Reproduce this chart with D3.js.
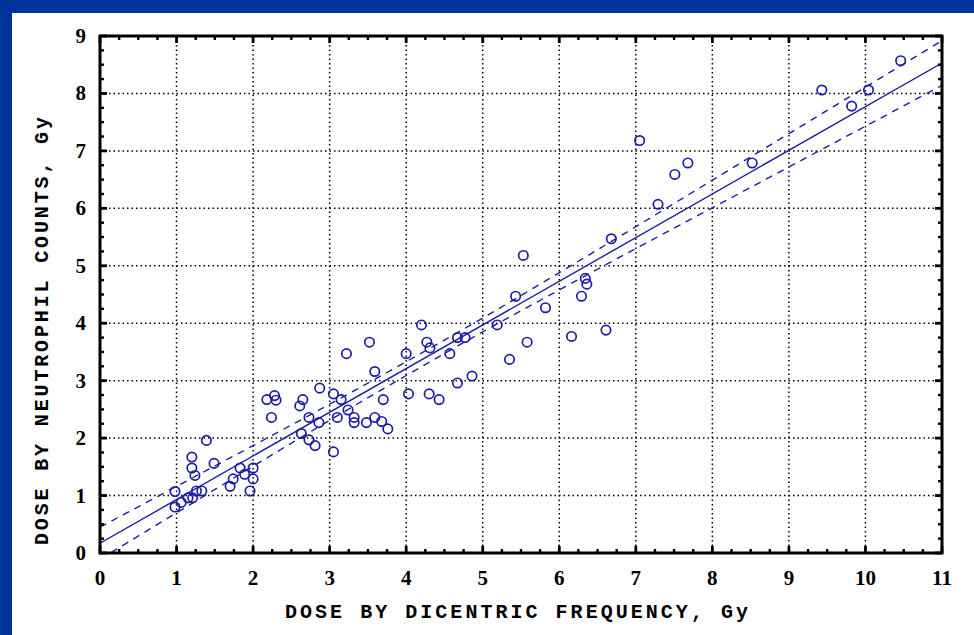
<!DOCTYPE html>
<html>
<head>
<meta charset="utf-8">
<script src="https://cdn.jsdelivr.net/npm/d3@7"></script>
<style>
  html, body { margin: 0; padding: 0; background: #ffffff; }
  svg { display: block; }
</style>
</head>
<body>
<svg id="chart" width="974" height="635"></svg>
<script>
// Dose estimates: dicentric frequency (x) vs neutrophil counts (y), Gy
const doseDicentric = [
  0.98, 0.98, 1.06, 1.15, 1.21, 1.26, 1.33, 1.20, 1.20, 1.24,
  1.39, 1.49, 1.70, 1.74, 1.83, 1.89, 1.96, 2.00, 2.00, 2.18,
  2.28, 2.30, 2.24, 2.61, 2.65, 2.63, 2.73, 2.73, 2.81, 2.86,
  2.87, 3.05, 3.15, 3.10, 3.24, 3.32, 3.32, 3.22, 3.05, 3.48,
  3.52, 3.59, 3.59, 3.68, 3.70, 3.76, 4.00, 4.03, 4.20, 4.27,
  4.31, 4.30, 4.43, 4.57, 4.67, 4.77, 4.67, 4.86, 5.19, 5.35,
  5.43, 5.53, 5.58, 5.82, 6.16, 6.29, 6.34, 6.36, 6.61, 6.68,
  7.05, 7.29, 7.51, 7.68, 8.52, 9.43, 9.82, 10.04, 10.46
];
const doseNeutrophil = [
  1.07, 0.80, 0.88, 0.96, 0.96, 1.08, 1.08, 1.67, 1.48, 1.35,
  1.96, 1.56, 1.16, 1.29, 1.48, 1.37, 1.08, 1.48, 1.29, 2.67,
  2.74, 2.66, 2.36, 2.56, 2.67, 2.08, 2.36, 1.97, 1.87, 2.27,
  2.87, 2.77, 2.67, 2.36, 2.49, 2.36, 2.27, 3.47, 1.76, 2.27,
  3.67, 3.16, 2.36, 2.29, 2.67, 2.16, 3.47, 2.77, 3.97, 3.67,
  3.57, 2.77, 2.67, 3.47, 3.75, 3.75, 2.96, 3.08, 3.97, 3.37,
  4.47, 5.18, 3.67, 4.27, 3.77, 4.47, 4.78, 4.68, 3.88, 5.47,
  7.18, 6.07, 6.59, 6.79, 6.79, 8.06, 7.78, 8.06, 8.57
];

// Regression line end points
const fitX = [0, 11];
const fitY = [0.17, 8.53];

// Confidence band, sampled at whole Gy
const bandX     = [0, 1, 2, 3, 4, 5, 6, 7, 8, 9, 10, 11];
const bandUpper = [0.45, 1.16, 1.87, 2.59, 3.33, 4.09, 4.88, 5.68, 6.49, 7.30, 8.11, 8.92];
const bandLower = [-0.11, 0.70, 1.51, 2.31, 3.09, 3.85, 4.58, 5.30, 6.01, 6.72, 7.43, 8.14];

// Axis ticks
const xTicks = [0, 1, 2, 3, 4, 5, 6, 7, 8, 9, 10, 11];
const yTicks = [0, 1, 2, 3, 4, 5, 6, 7, 8, 9];
const xTitle = "DOSE BY DICENTRIC FREQUENCY, Gy";
const yTitle = "DOSE BY NEUTROPHIL COUNTS, Gy";

(function draw() {
  const svg = d3.select("#chart");
  const W = 974, H = 635;
  const pL = 100, pR = 942, pT = 36, pB = 553;
  const ink = "#1c1ca6";

  // Slide frame: blue bands along top and left
  svg.append("rect").attr("x", 0).attr("y", 0).attr("width", W).attr("height", H).attr("fill", "#ffffff");
  svg.append("rect").attr("x", 0).attr("y", 0).attr("width", W).attr("height", 13).attr("fill", "#003399");
  svg.append("rect").attr("x", 0).attr("y", 0).attr("width", 12).attr("height", H).attr("fill", "#003399");

  const x = d3.scaleLinear().domain([0, 11]).range([pL, pR]);
  const y = d3.scaleLinear().domain([0, 9]).range([pB, pT]);

  const minorX = d3.range(0, 11.001, 0.25).filter(v => Math.abs(v - Math.round(v)) > 1e-6);
  const minorY = d3.range(0, 9.001, 0.25).filter(v => Math.abs(v - Math.round(v)) > 1e-6);

  // Dotted grid
  const grid = svg.append("g").attr("stroke", "#000").attr("stroke-width", 1.5).attr("stroke-dasharray", "1.5 3");
  xTicks.slice(1, -1).forEach(v => {
    grid.append("line").attr("x1", x(v)).attr("x2", x(v)).attr("y1", pT).attr("y2", pB);
  });
  yTicks.slice(1, -1).forEach(v => {
    grid.append("line").attr("x1", pL).attr("x2", pR).attr("y1", y(v)).attr("y2", y(v));
  });

  // Clip for the fit curves
  svg.append("clipPath").attr("id", "plotClip")
    .append("rect").attr("x", pL).attr("y", pT).attr("width", pR - pL).attr("height", pB - pT);

  const plot = svg.append("g").attr("clip-path", "url(#plotClip)");

  const bandLine = d3.line().curve(d3.curveMonotoneX);
  plot.append("path")
    .attr("d", bandLine(bandX.map((v, i) => [x(v), y(bandUpper[i])])))
    .attr("fill", "none").attr("stroke", ink).attr("stroke-width", 1.4).attr("stroke-dasharray", "7 6");
  plot.append("path")
    .attr("d", bandLine(bandX.map((v, i) => [x(v), y(bandLower[i])])))
    .attr("fill", "none").attr("stroke", ink).attr("stroke-width", 1.4).attr("stroke-dasharray", "7 6");
  plot.append("path")
    .attr("d", d3.line()(fitX.map((v, i) => [x(v), y(fitY[i])])))
    .attr("fill", "none").attr("stroke", ink).attr("stroke-width", 1.4);

  // Observations
  plot.append("g").selectAll("circle")
    .data(doseDicentric.map((v, i) => [v, doseNeutrophil[i]]))
    .join("circle")
    .attr("cx", d => x(d[0])).attr("cy", d => y(d[1]))
    .attr("r", 4.7)
    .attr("fill", "none").attr("stroke", ink).attr("stroke-width", 1.7);

  // Inward ticks on all four sides
  const axisG = svg.append("g").attr("stroke", "#000");
  function tickMarksX(vals, len, width) {
    vals.forEach(v => {
      axisG.append("line").attr("x1", x(v)).attr("x2", x(v)).attr("y1", pB).attr("y2", pB - len).attr("stroke-width", width);
      axisG.append("line").attr("x1", x(v)).attr("x2", x(v)).attr("y1", pT).attr("y2", pT + len).attr("stroke-width", width);
    });
  }
  function tickMarksY(vals, len, width) {
    vals.forEach(v => {
      axisG.append("line").attr("x1", pL).attr("x2", pL + len).attr("y1", y(v)).attr("y2", y(v)).attr("stroke-width", width);
      axisG.append("line").attr("x1", pR).attr("x2", pR - len).attr("y1", y(v)).attr("y2", y(v)).attr("stroke-width", width);
    });
  }
  tickMarksX(minorX, 4, 2.4);
  tickMarksX(xTicks, 7, 2.8);
  tickMarksY(minorY, 4, 2.4);
  tickMarksY(yTicks, 7, 2.8);

  // Frame
  svg.append("rect").attr("x", pL).attr("y", pT).attr("width", pR - pL).attr("height", pB - pT)
    .attr("fill", "none").attr("stroke", "#000").attr("stroke-width", 3);

  // Tick labels
  const labelFont = "'Liberation Serif', 'DejaVu Serif', serif";
  svg.append("g").selectAll("text").data(xTicks).join("text")
    .attr("x", d => x(d)).attr("y", 585)
    .attr("text-anchor", "middle")
    .attr("font-family", labelFont).attr("font-weight", "bold").attr("font-size", 21)
    .attr("fill", "#000")
    .text(d => d);
  svg.append("g").selectAll("text").data(yTicks).join("text")
    .attr("x", 86).attr("y", d => y(d) + 7)
    .attr("text-anchor", "end")
    .attr("font-family", labelFont).attr("font-weight", "bold").attr("font-size", 21)
    .attr("fill", "#000")
    .text(d => d);

  // Axis titles
  const titleFont = "'Liberation Mono', 'DejaVu Sans Mono', monospace";
  svg.append("text")
    .attr("x", 285).attr("y", 618)
    .attr("font-family", titleFont).attr("font-weight", "bold").attr("font-size", 20)
    .attr("textLength", 463).attr("lengthAdjust", "spacing")
    .attr("fill", "#000")
    .text(xTitle);
  svg.append("text")
    .attr("transform", "translate(48,545) rotate(-90)")
    .attr("x", 0).attr("y", 0)
    .attr("font-family", titleFont).attr("font-weight", "bold").attr("font-size", 20)
    .attr("textLength", 428).attr("lengthAdjust", "spacing")
    .attr("fill", "#000")
    .text(yTitle);
})();
</script>
</body>
</html>
